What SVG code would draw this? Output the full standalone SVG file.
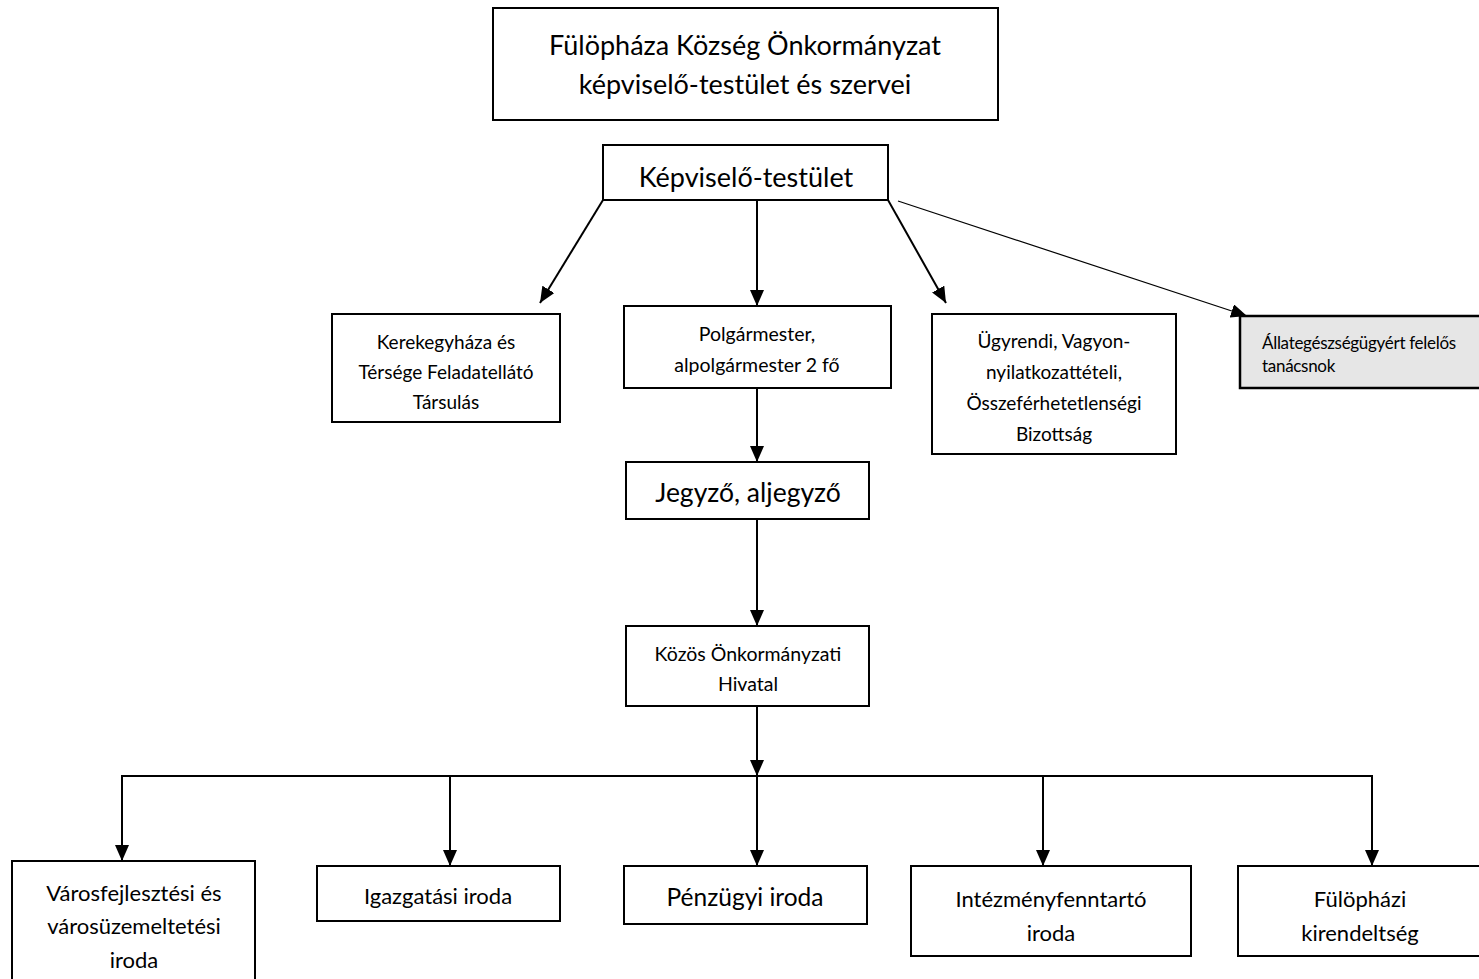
<svg xmlns="http://www.w3.org/2000/svg" width="1479" height="979" viewBox="0 0 1479 979">
<style>
.box{fill:#fff;stroke:#000;stroke-width:2}
.gray{fill:#e6e6e6;stroke:#000;stroke-width:2.5}
.t{font-family:Lato,"Open Sans","Liberation Sans",sans-serif;fill:#000;text-anchor:middle;dominant-baseline:central}
.tl{font-family:Lato,"Open Sans","Liberation Sans",sans-serif;fill:#000;dominant-baseline:central}
.c{stroke:#000;stroke-width:2;fill:none}
.thin{stroke:#000;stroke-width:1.2;fill:none}
</style>
<defs>
<marker id="ah" markerUnits="userSpaceOnUse" markerWidth="16" markerHeight="14" refX="16" refY="7" orient="auto">
<path d="M0,0 L16,7 L0,14 z" fill="#000"/>
</marker>
</defs>
<rect width="1479" height="979" fill="#fff"/>
<g id="connectors">
<line class="c" x1="603" y1="200" x2="540" y2="303" marker-end="url(#ah)"/>
<line class="c" x1="757" y1="200" x2="757" y2="306" marker-end="url(#ah)"/>
<line class="c" x1="888" y1="200" x2="946" y2="303" marker-end="url(#ah)"/>
<line class="thin" x1="898" y1="201" x2="1247" y2="316" marker-end="url(#ah)"/>
<line class="c" x1="757" y1="388" x2="757" y2="462" marker-end="url(#ah)"/>
<line class="c" x1="757" y1="519" x2="757" y2="626" marker-end="url(#ah)"/>
<line class="c" x1="757" y1="706" x2="757" y2="776" marker-end="url(#ah)"/>
<polyline class="c" points="122,861 122,776 1372,776 1372,866" marker-end="url(#ah)"/>
<line class="c" x1="122" y1="780" x2="122" y2="861" marker-end="url(#ah)"/>
<line class="c" x1="450" y1="776" x2="450" y2="866" marker-end="url(#ah)"/>
<line class="c" x1="757" y1="776" x2="757" y2="866" marker-end="url(#ah)"/>
<line class="c" x1="1043" y1="776" x2="1043" y2="866" marker-end="url(#ah)"/>
</g>
<g id="n-top">
<rect class="box" x="493" y="8" width="505" height="112"/>
<text class="t" x="745" y="44" font-size="27">Fülöpháza Község Önkormányzat</text>
<text class="t" x="745" y="83" font-size="27">képviselő-testület és szervei</text>
</g>
<g id="n-kt">
<rect class="box" x="603" y="145" width="285" height="55"/>
<text class="t" x="746" y="176" font-size="27">Képviselő-testület</text>
</g>
<g id="n-ker">
<rect class="box" x="332" y="314" width="228" height="108"/>
<text class="t" x="446" y="341" font-size="19">Kerekegyháza és</text>
<text class="t" x="446" y="371" font-size="19">Térsége Feladatellátó</text>
<text class="t" x="446" y="401" font-size="19">Társulás</text>
</g>
<g id="n-polg">
<rect class="box" x="624" y="306" width="267" height="82"/>
<text class="t" x="757" y="333" font-size="19.5">Polgármester,</text>
<text class="t" x="757" y="364" font-size="19.5">alpolgármester 2 fő</text>
</g>
<g id="n-ugy">
<rect class="box" x="932" y="314" width="244" height="140"/>
<text class="t" x="1054" y="340" font-size="19">Ügyrendi, Vagyon-</text>
<text class="t" x="1054" y="371" font-size="19">nyilatkozattételi,</text>
<text class="t" x="1054" y="402" font-size="19">Összeférhetetlenségi</text>
<text class="t" x="1054" y="433" font-size="19">Bizottság</text>
</g>
<g id="n-all">
<rect class="gray" x="1240" y="316" width="245" height="72"/>
<text class="tl" x="1262" y="342" font-size="17" letter-spacing="-0.3">Állategészségügyért felelős</text>
<text class="tl" x="1262" y="365" font-size="17" letter-spacing="-0.3">tanácsnok</text>
</g>
<g id="n-jegy">
<rect class="box" x="626" y="462" width="243" height="57"/>
<text class="t" x="748" y="492" font-size="26.5">Jegyző, aljegyző</text>
</g>
<g id="n-hiv">
<rect class="box" x="626" y="626" width="243" height="80"/>
<text class="t" x="748" y="653" font-size="19.5">Közös Önkormányzati</text>
<text class="t" x="748" y="683" font-size="19.5">Hivatal</text>
</g>
<g id="n-varos">
<rect class="box" x="12" y="861" width="243" height="125"/>
<text class="t" x="134" y="892" font-size="22">Városfejlesztési és</text>
<text class="t" x="134" y="925" font-size="22">városüzemeltetési</text>
<text class="t" x="134" y="959" font-size="22">iroda</text>
</g>
<g id="n-igaz">
<rect class="box" x="317" y="866" width="243" height="55"/>
<text class="t" x="438" y="895" font-size="22">Igazgatási iroda</text>
</g>
<g id="n-penz">
<rect class="box" x="624" y="866" width="243" height="58"/>
<text class="t" x="745" y="896" font-size="24.5">Pénzügyi iroda</text>
</g>
<g id="n-int">
<rect class="box" x="911" y="866" width="280" height="90"/>
<text class="t" x="1051" y="898" font-size="22">Intézményfenntartó</text>
<text class="t" x="1051" y="932" font-size="22">iroda</text>
</g>
<g id="n-ful">
<rect class="box" x="1238" y="866" width="250" height="90"/>
<text class="t" x="1360" y="898" font-size="22">Fülöpházi</text>
<text class="t" x="1360" y="932" font-size="22">kirendeltség</text>
</g>
</svg>
